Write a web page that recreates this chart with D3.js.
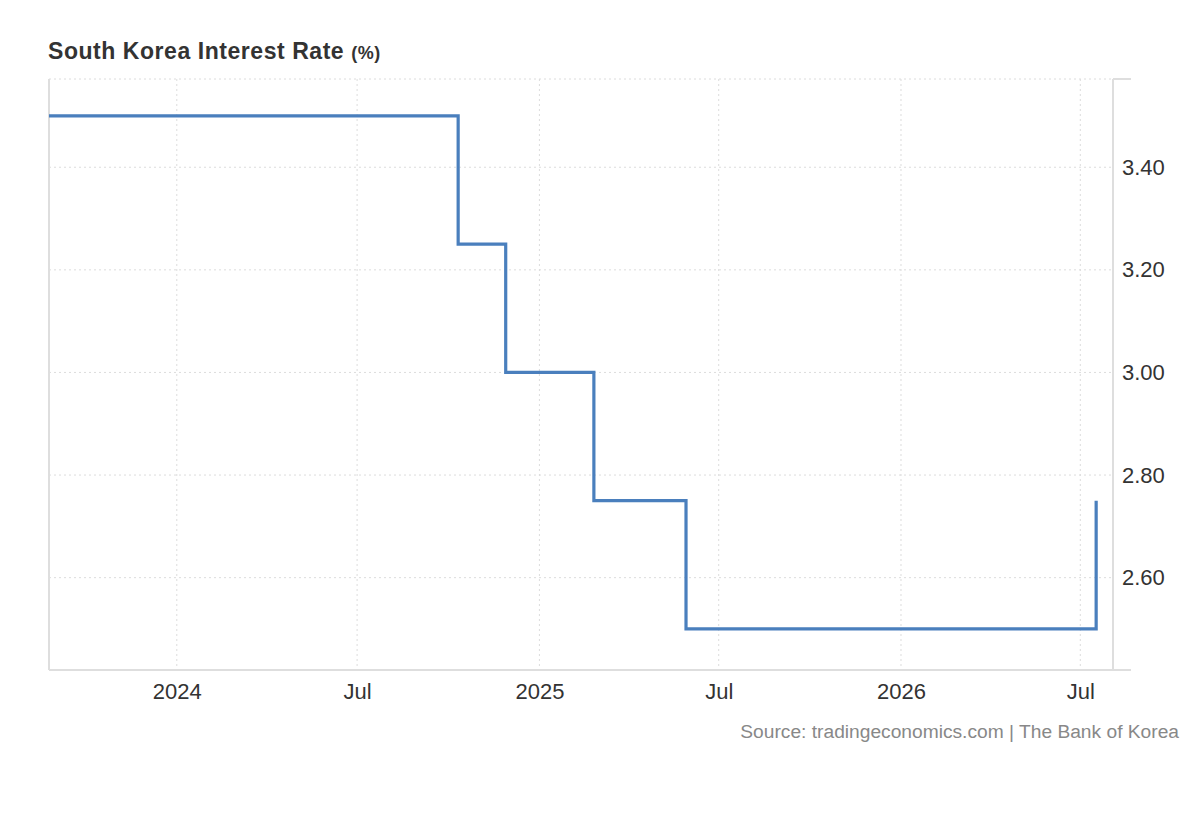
<!DOCTYPE html>
<html>
<head>
<meta charset="utf-8">
<script src="https://cdn.jsdelivr.net/npm/d3@7"></script>
<style>
  body { margin: 0; background: #fff; font-family: "Liberation Sans", Arial, sans-serif; }
  .grid line { stroke: #dcdcdc; stroke-dasharray: 2,3; }
  .axisFrame { stroke: #dedede; stroke-width: 2; }
</style>
</head>
<body>
<div id="chart"></div>
<script>
// data
var rateDates = ["2023-08-25", "2024-10-11", "2024-11-28", "2025-02-25", "2025-05-29", "2026-07-17"];
var rateValues = [3.50, 3.25, 3.00, 2.75, 2.50, 2.75];
var yTicks = [2.60, 2.80, 3.00, 3.20, 3.40];
var xTickDates = ["2024-01-01", "2024-07-01", "2025-01-01", "2025-07-01", "2026-01-01", "2026-07-01"];
var xTickLabels = ["2024", "Jul", "2025", "Jul", "2026", "Jul"];

var parseTime = d3.timeParse("%Y-%m-%d");
var formatY = d3.format(".2f");

var margin = {top: 79, right: 87, bottom: 150, left: 49};
var width = 1200 - margin.left - margin.right;
var height = 820 - margin.top - margin.bottom;

var data = rateDates.map(function(d, i) { return {date: parseTime(d), value: rateValues[i]}; });

var x = d3.scaleTime()
    .domain([parseTime("2023-08-25"), parseTime("2026-08-03")])
    .range([0, width]);
var y = d3.scaleLinear().domain([2.42, 3.572]).range([height, 0]);

var svg = d3.select("#chart").append("svg")
    .attr("width", 1200)
    .attr("height", 820);

svg.append("text")
    .attr("x", 48)
    .attr("y", 59)
    .style("font-size", "23px")
    .style("font-weight", "bold")
    .style("letter-spacing", "0.55px")
    .style("fill", "#333")
    .text("South Korea Interest Rate ")
  .append("tspan")
    .style("font-size", "18px")
    .text("(%)");

var g = svg.append("g")
    .attr("transform", "translate(" + margin.left + "," + margin.top + ")");

// gridlines
var grid = g.append("g").attr("class", "grid");
grid.selectAll(".vgrid")
    .data(xTickDates)
  .enter().append("line")
    .attr("x1", function(d) { return x(parseTime(d)); })
    .attr("x2", function(d) { return x(parseTime(d)); })
    .attr("y1", 0)
    .attr("y2", height);
grid.selectAll(".hgrid")
    .data(yTicks)
  .enter().append("line")
    .attr("x1", 0)
    .attr("x2", width)
    .attr("y1", function(d) { return y(d); })
    .attr("y2", function(d) { return y(d); });
grid.append("line")
    .attr("x1", 0).attr("x2", width)
    .attr("y1", 0).attr("y2", 0);

// frame
g.append("line").attr("class", "axisFrame")
    .attr("x1", 0).attr("x2", 0).attr("y1", 0).attr("y2", height);
g.append("line").attr("class", "axisFrame")
    .attr("x1", width).attr("x2", width).attr("y1", 0).attr("y2", height);
g.append("line").attr("class", "axisFrame")
    .attr("x1", 0).attr("x2", width + 18).attr("y1", height).attr("y2", height);
g.append("line").attr("class", "axisFrame")
    .attr("x1", width).attr("x2", width + 18).attr("y1", 0).attr("y2", 0);

// y axis labels on the right
var yAxis = d3.axisRight(y).tickValues(yTicks).tickFormat(formatY).tickSize(0).tickPadding(9);
g.append("g")
    .attr("transform", "translate(" + width + ",0)")
    .call(yAxis)
    .call(function(s) { s.select(".domain").remove(); })
    .selectAll("text")
    .style("font-family", "'Liberation Sans', Arial, sans-serif")
    .style("font-size", "22px")
    .style("fill", "#333");

// x axis labels
var xAxis = d3.axisBottom(x)
    .tickValues(xTickDates.map(parseTime))
    .tickFormat(function(d, i) { return xTickLabels[i]; })
    .tickSize(0).tickPadding(13);
g.append("g")
    .attr("transform", "translate(0," + height + ")")
    .call(xAxis)
    .call(function(s) { s.select(".domain").remove(); })
    .selectAll("text")
    .style("font-family", "'Liberation Sans', Arial, sans-serif")
    .style("font-size", "22px")
    .style("fill", "#333");

// step line
var line = d3.line()
    .x(function(d) { return x(d.date); })
    .y(function(d) { return y(d.value); })
    .curve(d3.curveStepAfter);

g.append("path")
    .datum(data)
    .attr("d", line)
    .attr("fill", "none")
    .attr("stroke", "#4a7fbd")
    .attr("stroke-width", 3.2);

svg.append("text")
    .attr("x", 1179)
    .attr("y", 738)
    .attr("text-anchor", "end")
    .style("font-size", "19.2px")
    .style("fill", "#888")
    .text("Source: tradingeconomics.com | The Bank of Korea");
</script>
</body>
</html>
